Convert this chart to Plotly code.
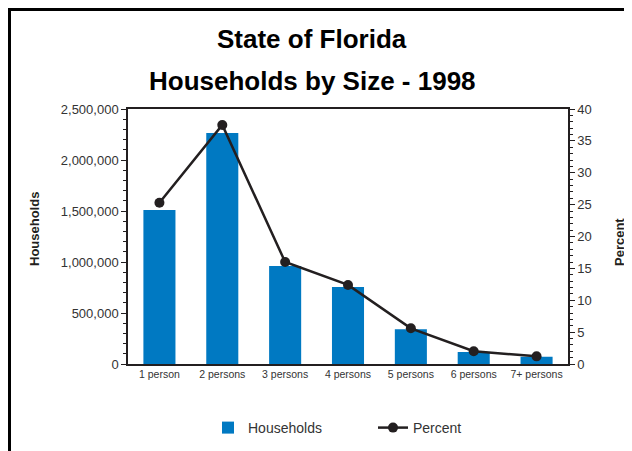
import plotly.graph_objects as go

categories = ["1 person", "2 persons", "3 persons", "4 persons", "5 persons", "6 persons", "7+ persons"]
households = [1510000, 2265000, 960000, 755000, 340000, 118000, 70000]
percent = [25.3, 37.5, 16.0, 12.4, 5.6, 2.0, 1.2]
left_ticks = [0, 500000, 1000000, 1500000, 2000000, 2500000]
right_ticks = [0, 5, 10, 15, 20, 25, 30, 35, 40]

FONT = "Liberation Sans, Arial, sans-serif"
DARK = "#231f20"
TXT = "#333333"

fig = go.Figure()
fig.add_trace(go.Bar(x=categories, y=households, name="Households",
                     marker=dict(color="#0079c2", line=dict(width=0)), width=0.51,
                     yaxis="y"))
fig.add_trace(go.Scatter(x=categories, y=percent, name="Percent", mode="lines+markers",
                         line=dict(color=DARK, width=2.5),
                         marker=dict(color=DARK, size=10), yaxis="y2"))

W, H = 632, 451
OFF = 8  # page body margin in the browser
L, R, T, B = 128 - OFF, 568 - OFF, 109 - OFF, 364 - OFF

def px(x):
    return (x - OFF - L) / (R - L)

def py(y):
    return (B - (y - OFF)) / (B - T)

fig.update_layout(
    width=W, height=H,
    margin=dict(l=L, r=W - R, t=T, b=H - B, pad=0, autoexpand=False),
    paper_bgcolor="white", plot_bgcolor="white",
    font=dict(family=FONT, color=TXT),
    showlegend=True,
    legend=dict(orientation="h", x=px(208), y=py(412), xanchor="left", yanchor="top",
                font=dict(size=14, color=TXT), entrywidth=120, entrywidthmode="pixels",
                bgcolor="rgba(0,0,0,0)", traceorder="normal"),
    xaxis=dict(type="category", showline=True, linecolor=DARK, linewidth=1.5, mirror=True,
               ticks="", tickfont=dict(size=10.5, color=TXT), showgrid=False,
               range=[-0.5, 6.5], fixedrange=True),
    yaxis=dict(range=[0, 2500000], tickvals=left_ticks, tickformat=",", showgrid=False,
               showline=True, linecolor=DARK, linewidth=1.5, ticks="outside", ticklen=5,
               tickcolor=DARK, tickwidth=1, tickfont=dict(size=13, color=TXT),
               minor=dict(dtick=100000, ticks="outside", ticklen=3, tickcolor=DARK, tickwidth=1),
               zeroline=False),
    yaxis2=dict(range=[0, 40], tickvals=right_ticks, overlaying="y", side="right",
                showgrid=False, showline=True, linecolor=DARK, linewidth=1.5,
                ticks="outside", ticklen=5, tickcolor=DARK, tickwidth=1,
                tickfont=dict(size=13, color=TXT),
                minor=dict(dtick=1, ticks="outside", ticklen=3, tickcolor=DARK, tickwidth=1),
                zeroline=False),
    annotations=[
        dict(text="<b>State of Florida</b>", x=px(312), y=py(39), xref="paper", yref="paper",
             xanchor="center", yanchor="middle", showarrow=False,
             font=dict(size=26, color="black", family=FONT)),
        dict(text="<b>Households by Size - 1998</b>", x=px(312), y=py(81), xref="paper", yref="paper",
             xanchor="center", yanchor="middle", showarrow=False,
             font=dict(size=26, color="black", family=FONT)),
        dict(text="<b>Households</b>", x=px(34), y=py(229), xref="paper", yref="paper",
             xanchor="center", yanchor="middle", showarrow=False, textangle=-90,
             font=dict(size=13, color=DARK, family=FONT)),
        dict(text="<b>Percent</b>", x=px(620), y=py(242), xref="paper", yref="paper",
             xanchor="center", yanchor="middle", showarrow=False, textangle=-90,
             font=dict(size=13, color=DARK, family=FONT)),
    ],
    shapes=[
        dict(type="rect", xref="paper", yref="paper", x0=px(9.5), x1=px(660), y0=py(480), y1=py(9.5),
             line=dict(color="black", width=3), fillcolor="rgba(0,0,0,0)", layer="above"),
    ],
)

fig.write_html("out.html")
